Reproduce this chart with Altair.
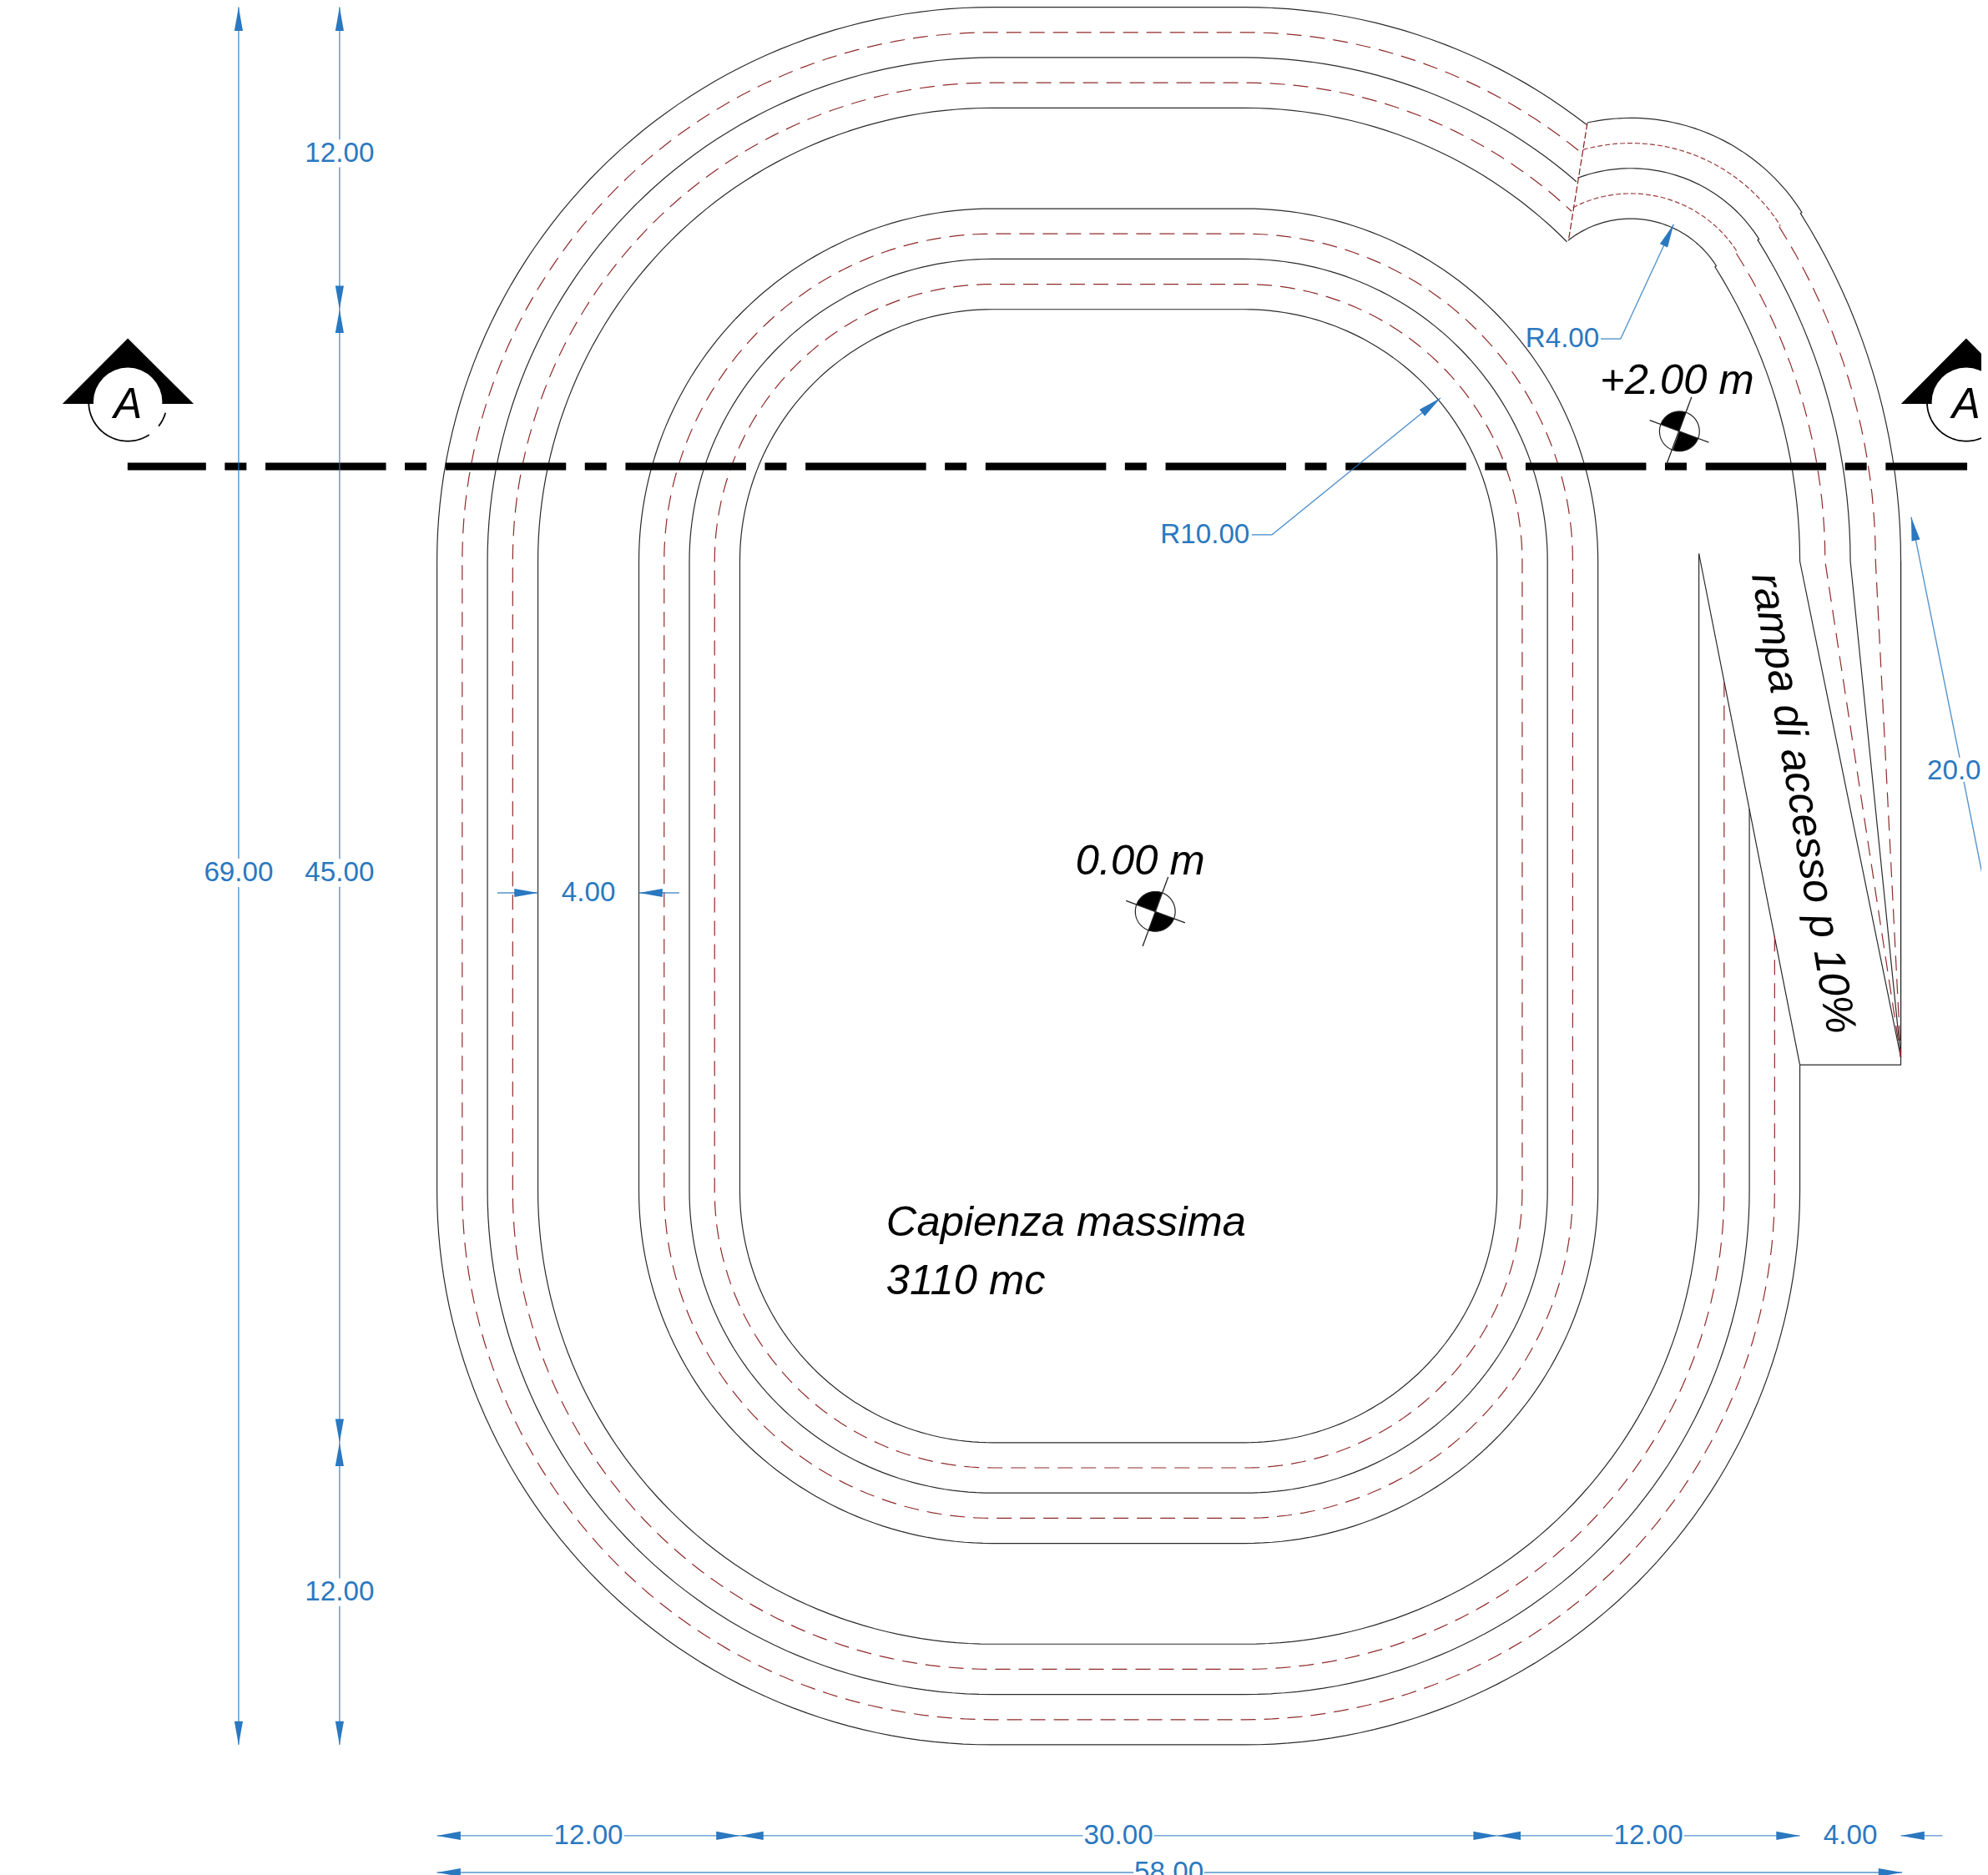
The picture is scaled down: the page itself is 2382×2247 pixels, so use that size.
import numpy as np
import pandas as pd
import altair as alt

# ---- geometry, in metres ----
CX_L, CX_R, CY_B, CY_T = 22.0, 32.0, 22.0, 47.0
RING_SOLID = [10, 12, 14]
RING_DASH = [11, 13]
SPIRAL_R = [18, 19, 20, 21, 22]
SPIRAL_START_Y = [47.3, 42.2, 37.15, 32.1, 27.0]
SPIRAL_END_DEG = [44.8, 47.0, 48.9, 50.5, 52.0]
RAMP_C = (47.3, 56.6)
RAMP_r = [4, 5, 6, 7, 8]
RAMP_START_DEG = [128.4, 117.3, 110.5, 105.7, 102.4]
RAMP_TANGENT_DEG = 32.1
APEX = (58.0, 27.3)
JOIN_X = [45.58, 44.83]
JOIN_Y = [64.4, 59.72]
EXTRA_X = [54, 58, 58]
EXTRA_Y = [27, 27, 47]
SLANT_X = [50, 54]
SLANT_Y = [47.3, 27]

BLUE_TEXT = "#2a78c0"
FONT = "Liberation Sans"

# dimension lines: (x1, y1, x2, y2)
DIM_SEGMENTS = [
    (-7.86, 69, -7.86, 35.19), (-7.86, 34.06, -7.86, 0),
    (-3.86, 69, -3.86, 63.74), (-3.86, 62.64, -3.86, 57),
    (-3.86, 57, -3.86, 35.18), (-3.86, 34.08, -3.86, 12),
    (-3.86, 12, -3.86, 6.61), (-3.86, 5.51, -3.86, 0),
    (0, -3.61, 4.59, -3.61), (7.41, -3.61, 12, -3.61),
    (12, -3.61, 25.59, -3.61), (28.41, -3.61, 42, -3.61),
    (42, -3.61, 46.59, -3.61), (49.41, -3.61, 54, -3.61),
    (58, -3.61, 59.65, -3.61),
    (0, -5.07, 27.6, -5.07), (30.4, -5.07, 58.05, -5.07),
    (2.39, 33.83, 4, 33.83), (8, 33.83, 9.6, 33.83),
    (32.28, 48.05, 33.08, 48.05), (33.08, 48.05, 39.76, 53.48),
    (46.11, 55.83, 46.9, 55.83), (46.9, 55.83, 49.0, 60.38),
    (58.41, 48.75, 60.33, 39.2), (60.5, 38.24, 61.45, 33.43),
]
# arrow heads: (x, y, clockwise angle from up)
ARROWS = [
    (-7.86, 69, 0), (-7.86, 0, 180),
    (-3.86, 69, 0), (-3.86, 57, 180), (-3.86, 57, 0),
    (-3.86, 12, 180), (-3.86, 12, 0), (-3.86, 0, 180),
    (0, -3.61, 270), (12, -3.61, 90), (12, -3.61, 270), (42, -3.61, 90),
    (42, -3.61, 270), (54, -3.61, 90), (58, -3.61, 270),
    (0, -5.07, 270), (58.05, -5.07, 90),
    (4, 33.83, 90), (8, 33.83, 270),
    (39.76, 53.48, 50.9), (49.0, 60.38, 24.8), (58.41, 48.75, 348.6),
]
DIM_TEXT = [
    ("12.00", -3.86, 63.19, "center"), ("45.00", -3.86, 34.63, "center"),
    ("12.00", -3.86, 6.06, "center"), ("69.00", -7.86, 34.63, "center"),
    ("12.00", 6, -3.61, "center"), ("30.00", 27, -3.61, "center"),
    ("12.00", 48, -3.61, "center"), ("4.00", 56, -3.61, "center"),
    ("58.00", 29, -5.07, "center"), ("4.00", 6, 33.83, "center"),
    ("R10.00", 30.43, 48.05, "center"), ("R4.00", 44.59, 55.83, "center"),
    ("20.00", 59.04, 38.68, "left"),
]
NOTE_TEXT = [
    ("0.00 m", 25.30, 34.56), ("+2.00 m", 46.08, 53.65),
    ("Capienza massima", 17.80, 20.21), ("3110 mc", 17.80, 17.89),
]
RAMP_LABEL = ("rampa di accesso p 10%", 54.09, 37.38)

SECTION_LINE_X = [-12.26, 60.63]
SECTION_LINE_Y = [50.76, 50.76]
SECTION_CENTERS = [(-12.25, 53.32), (60.59, 53.32)]
SECTION_TRI_X = [[-14.84, -12.25, -9.64], [58.01, 60.59, 63.17]]
SECTION_TRI_Y = [53.25, 55.85, 53.25]
SECTION_TEXT_Y = 52.7
SECTION_R = 1.55
SECTION_ARCS = [(180, 303), (322, 344)]

LEVEL_CENTERS = [(28.46, 33.09), (49.23, 52.16)]
LEVEL_R = 0.79
LEVEL_CROSS = [
    (27.30, 33.52, 29.64, 32.64), (28.97, 34.46, 27.96, 31.71),
    (48.05, 52.60, 50.39, 51.72), (49.71, 53.52, 48.71, 50.83),
]


def arc(cx, cy, r, a0, a1):
    n = max(2, int(abs(a1 - a0) / 1.5) + 1)
    t = np.radians(np.linspace(a0, a1, n))
    return list(zip(cx + r * np.cos(t), cy + r * np.sin(t)))


def stadium(r):
    pts = arc(CX_R, CY_B, r, 0, -90) + arc(CX_L, CY_B, r, -90, -180)
    pts += arc(CX_L, CY_T, r, 180, 90) + arc(CX_R, CY_T, r, 90, 0)
    return pts + [pts[0]]


def spiral(r, y0, end):
    pts = [(CX_R + r, y0)] + arc(CX_R, CY_B, r, 0, -90) + arc(CX_L, CY_B, r, -90, -180)
    pts += arc(CX_L, CY_T, r, 180, 90) + arc(CX_R, CY_T, r, 90, end)
    return pts


def frame(paths):
    rows = []
    for pid, pts in enumerate(paths):
        for i, (x, y) in enumerate(pts):
            rows.append({"x": float(x), "y": float(y), "path": pid, "i": i})
    return pd.DataFrame(rows)


solid, dash, short = [], [], []
for r in RING_SOLID:
    solid.append(stadium(r))
for r in RING_DASH:
    dash.append(stadium(r))
for r, y0, e in zip(SPIRAL_R, SPIRAL_START_Y, SPIRAL_END_DEG):
    (solid if r % 2 == 0 else dash).append(spiral(r, y0, e))
for rr, s in zip(RAMP_r, RAMP_START_DEG):
    small = arc(RAMP_C[0], RAMP_C[1], rr, s, RAMP_TANGENT_DEG)
    big = arc(CX_R, CY_T, 18 + rr, RAMP_TANGENT_DEG, 0) + [APEX]
    if rr % 2 == 0:
        solid.append(small + big)
    else:
        short.append(small)
        dash.append(big)
solid.append(list(zip(EXTRA_X, EXTRA_Y)))
solid.append(list(zip(SLANT_X, SLANT_Y)))
short_join = [list(zip(JOIN_X, JOIN_Y))]

sx = alt.Scale(domain=[-17.05, 61.19], range=[0, 2366], zero=False, nice=False)
sy = alt.Scale(domain=[-5.17, 69.02], range=[2239, 0], zero=False, nice=False)
X = alt.X("x:Q", scale=sx, axis=None)
Y = alt.Y("y:Q", scale=sy, axis=None)


def lines(paths, **kw):
    return alt.Chart(frame(paths)).mark_line(**kw).encode(
        x=X, y=Y, detail="path:N", order=alt.Order("i:Q")
    )


layers = [
    lines(solid, stroke="#2a2a2a", strokeWidth=1.2),
    lines(dash, stroke="#8f2a2a", strokeWidth=1.2, strokeDash=[18, 10]),
    lines(short, stroke="#9a3a3a", strokeWidth=1.2, strokeDash=[6, 3]),
    lines(short_join, stroke="#8b1a1a", strokeWidth=1.2, strokeDash=[8, 3]),
]

# thick section line
layers.append(lines([list(zip(SECTION_LINE_X, SECTION_LINE_Y))], stroke="#000000", strokeWidth=9,
                    strokeDash=[144.5, 22.5, 26, 22.7], strokeDashOffset=50.5, strokeCap="butt"))

# dimension lines, arrows, labels
seg = pd.DataFrame(DIM_SEGMENTS, columns=["x", "y", "x2", "y2"])
layers.append(alt.Chart(seg).mark_rule(stroke="#2a78c0", strokeWidth=1.4, opacity=0.8).encode(
    x=X, y=Y, x2="x2:Q", y2="y2:Q"))
arrows = pd.DataFrame(ARROWS, columns=["x", "y", "angle"])
layers.append(alt.Chart(arrows).mark_point(
    shape="M0,0L-0.18,1L0.18,1Z", filled=True, fill=BLUE_TEXT, opacity=1, size=3200
).encode(x=X, y=Y, angle=alt.Angle("angle:Q", scale=None)))
dims = pd.DataFrame(DIM_TEXT, columns=["t", "x", "y", "a"])
for a in ["center", "left"]:
    layers.append(alt.Chart(dims[dims.a == a]).mark_text(
        font=FONT, fontSize=33.2, color=BLUE_TEXT, align=a, baseline="middle"
    ).encode(x=X, y=Y, text="t:N"))

# section symbols
for tx in SECTION_TRI_X:
    tri = pd.DataFrame({"x": tx, "y": SECTION_TRI_Y, "y0": [SECTION_TRI_Y[0]] * 3})
    layers.append(alt.Chart(tri).mark_area(color="#000000").encode(x=X, y=Y, y2="y0:Q"))
centers = pd.DataFrame(SECTION_CENTERS, columns=["x", "y"])
layers.append(alt.Chart(centers).mark_point(
    shape="circle", filled=True, fill="#ffffff", opacity=1, size=6800
).encode(x=X, y=Y))
sect_paths = []
for cx, cy in SECTION_CENTERS:
    for a0, a1 in SECTION_ARCS:
        sect_paths.append(arc(cx, cy, SECTION_R, a0, a1))
layers.append(lines(sect_paths, stroke="#000000", strokeWidth=1.8))
sym = pd.DataFrame([{"x": c[0], "y": SECTION_TEXT_Y, "t": "A"} for c in SECTION_CENTERS])
layers.append(alt.Chart(sym).mark_text(
    font=FONT, fontSize=51, fontStyle="italic", color="#000000", align="center", baseline="alphabetic"
).encode(x=X, y=Y, text="t:N"))

# level markers
lev = pd.DataFrame(LEVEL_CENTERS, columns=["x", "y"])
for th0, th1 in [(290, 380), (110, 200)]:
    layers.append(alt.Chart(lev).mark_arc(
        radius=24, theta=np.radians(th0), theta2=np.radians(th1), color="#000000"
    ).encode(x=X, y=Y))
layers.append(lines([arc(c[0], c[1], LEVEL_R, 0, 360) for c in LEVEL_CENTERS], stroke="#222222", strokeWidth=1.2))
cross = pd.DataFrame(LEVEL_CROSS, columns=["x", "y", "x2", "y2"])
layers.append(alt.Chart(cross).mark_rule(stroke="#222222", strokeWidth=1.3).encode(
    x=X, y=Y, x2="x2:Q", y2="y2:Q"))

notes = pd.DataFrame(NOTE_TEXT, columns=["t", "x", "y"])
layers.append(alt.Chart(notes).mark_text(
    font=FONT, fontSize=50.7, fontStyle="italic", color="#000000", align="left", baseline="alphabetic"
).encode(x=X, y=Y, text="t:N"))
ramp = pd.DataFrame([{"t": RAMP_LABEL[0], "x": RAMP_LABEL[1], "y": RAMP_LABEL[2]}])
layers.append(alt.Chart(ramp).mark_text(
    font=FONT, fontSize=51, fontStyle="italic", color="#000000", align="center", baseline="middle", angle=80.6
).encode(x=X, y=Y, text="t:N"))

chart = alt.layer(*layers).properties(
    width=2366, height=2239, padding=0, background="#ffffff",
    autosize=alt.AutoSizeParams(type="none"),
).configure_view(strokeWidth=0)

chart.save("out.html", embed_options={"renderer": "svg", "actions": False})
